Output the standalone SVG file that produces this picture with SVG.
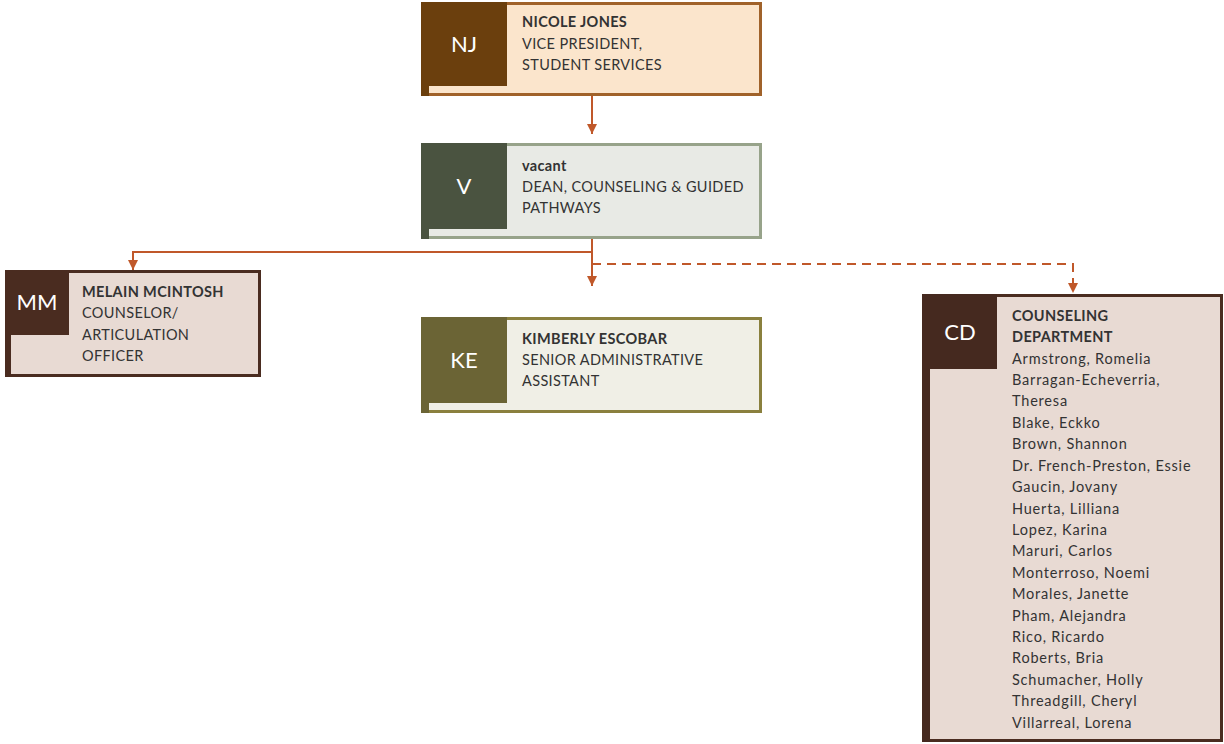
<svg xmlns="http://www.w3.org/2000/svg" width="1224" height="744" viewBox="0 0 1224 744">
<defs>
<marker id="ah" viewBox="0 0 10 10" refX="10" refY="5" markerWidth="12" markerHeight="10" markerUnits="userSpaceOnUse" orient="auto">
<path d="M0,0 L10,5 L0,10 z" fill="#C0582A"/>
</marker>
</defs>
<style>
.t{font-family:Lato,"Open Sans",sans-serif;font-size:14.5px;fill:#333;letter-spacing:0.35px}
.b{font-weight:bold}
.l{letter-spacing:0.8px}
.i{font-family:Lato,"Open Sans",sans-serif;font-size:22px;fill:#fff;text-anchor:middle}
.c{fill:none;stroke:#C0582A;stroke-width:2}
.d{stroke-dasharray:9,6}
</style>
<rect width="1224" height="744" fill="#fff"/>
<g id="connectors">
<line class="c" x1="592" y1="96" x2="592" y2="134" marker-end="url(#ah)"/>
<polyline class="c" points="592,239 592,252 133,252 133,270" marker-end="url(#ah)"/>
<line class="c" x1="592" y1="252" x2="592" y2="286" marker-end="url(#ah)"/>
<polyline class="c d" points="592,264 1073,264 1073,293" marker-end="url(#ah)"/>
</g>
<g id="nj">
<rect x="422.5" y="3.5" width="338" height="91" fill="#FBE5CC" stroke="#A0622A" stroke-width="3"/>
<rect x="421" y="2" width="86" height="84" fill="#6B3F0D"/>
<rect x="421" y="2" width="8" height="94" fill="#6B3F0D"/>
<text class="i" x="464" y="52">NJ</text>
<text class="t b" x="522" y="27">NICOLE JONES</text>
<text class="t" x="522" y="49">VICE PRESIDENT,</text>
<text class="t" x="522" y="70">STUDENT SERVICES</text>
</g>
<g id="v">
<rect x="422.5" y="144.5" width="338" height="93" fill="#E8EAE5" stroke="#97A38A" stroke-width="3"/>
<rect x="421" y="143" width="86" height="86" fill="#4A5340"/>
<rect x="421" y="143" width="8" height="96" fill="#4A5340"/>
<text class="i" x="464" y="194">V</text>
<text class="t b" x="522" y="171">vacant</text>
<text class="t" x="522" y="192">DEAN, COUNSELING &amp; GUIDED</text>
<text class="t" x="522" y="213">PATHWAYS</text>
</g>
<g id="mm">
<rect x="6.5" y="271.5" width="253" height="104" fill="#E8DAD3" stroke="#4A2C20" stroke-width="3"/>
<rect x="5" y="270" width="64" height="65" fill="#4A2C20"/>
<rect x="5" y="270" width="6" height="107" fill="#4A2C20"/>
<text class="i" x="37" y="310">MM</text>
<text class="t b" x="82" y="297">MELAIN MCINTOSH</text>
<text class="t" x="82" y="318">COUNSELOR/</text>
<text class="t" x="82" y="340">ARTICULATION</text>
<text class="t" x="82" y="361">OFFICER</text>
</g>
<g id="ke">
<rect x="422.5" y="318.5" width="338" height="93" fill="#F0EFE6" stroke="#8A803E" stroke-width="3"/>
<rect x="421" y="317" width="86" height="86" fill="#6B6435"/>
<rect x="421" y="317" width="8" height="96" fill="#6B6435"/>
<text class="i" x="464" y="368">KE</text>
<text class="t b" x="522" y="344">KIMBERLY ESCOBAR</text>
<text class="t" x="522" y="365">SENIOR ADMINISTRATIVE</text>
<text class="t" x="522" y="386">ASSISTANT</text>
</g>
<g id="cd">
<rect x="923.5" y="295.5" width="298" height="445" fill="#E8DAD3" stroke="#4A2C20" stroke-width="3"/>
<rect x="922" y="294" width="75" height="75" fill="#45291F"/>
<rect x="922" y="294" width="8" height="448" fill="#45291F"/>
<text class="i" x="960" y="340">CD</text>
<text class="t b" x="1012" y="321">COUNSELING</text>
<text class="t b" x="1012" y="342">DEPARTMENT</text>
<text class="t l" x="1012" y="364">Armstrong, Romelia</text>
<text class="t l" x="1012" y="385">Barragan-Echeverria,</text>
<text class="t l" x="1012" y="406">Theresa</text>
<text class="t l" x="1012" y="428">Blake, Eckko</text>
<text class="t l" x="1012" y="449">Brown, Shannon</text>
<text class="t l" x="1012" y="471">Dr. French-Preston, Essie</text>
<text class="t l" x="1012" y="492">Gaucin, Jovany</text>
<text class="t l" x="1012" y="514">Huerta, Lilliana</text>
<text class="t l" x="1012" y="535">Lopez, Karina</text>
<text class="t l" x="1012" y="556">Maruri, Carlos</text>
<text class="t l" x="1012" y="578">Monterroso, Noemi</text>
<text class="t l" x="1012" y="599">Morales, Janette</text>
<text class="t l" x="1012" y="621">Pham, Alejandra</text>
<text class="t l" x="1012" y="642">Rico, Ricardo</text>
<text class="t l" x="1012" y="663">Roberts, Bria</text>
<text class="t l" x="1012" y="685">Schumacher, Holly</text>
<text class="t l" x="1012" y="706">Threadgill, Cheryl</text>
<text class="t l" x="1012" y="728">Villarreal, Lorena</text>
</g>
</svg>
